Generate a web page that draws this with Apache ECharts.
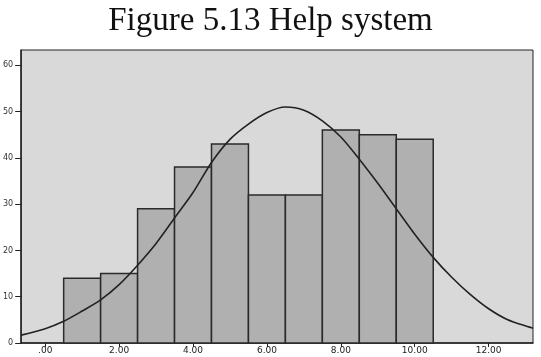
<!DOCTYPE html>
<html>
<head>
<meta charset="utf-8">
<script src="https://cdn.jsdelivr.net/npm/echarts@6/dist/echarts.min.js"></script>
<style>
html,body{margin:0;padding:0;background:#fff;}
#c{width:541px;height:357px;}
</style>
</head>
<body>
<div id="c"></div>
<script>
// Histogram bins (centres, width 1) and counts
var binCenters = [1, 2, 3, 4, 5, 6, 7, 8, 9, 10];
var counts = [14, 15, 29, 38, 43, 32, 32, 46, 45, 44];
// Normal curve, points
var curveX = [-0.65, 0, 0.5, 1.0, 1.5, 2.0, 2.5, 3.0, 3.5, 4.0, 4.5, 5.0, 5.5, 6.0, 6.5, 7.0, 7.5, 8.0, 8.5, 9.0, 9.5, 10.0, 10.5, 11.0, 11.5, 12.0, 12.5, 13.2];
var curveY = [1.7, 3.1, 4.7, 6.9, 9.3, 12.6, 16.8, 21.5, 27.0, 32.5, 39.0, 44.0, 47.3, 49.8, 51.0, 50.3, 48.0, 44.5, 39.7, 34.5, 29.0, 23.5, 18.5, 14.2, 10.5, 7.4, 5.1, 3.2];
// Tick labels
var xTicks = [0, 2, 4, 6, 8, 10, 12];
var xTickLabels = ['.00', '2.00', '4.00', '6.00', '8.00', '10.00', '12.00'];
var yTicks = [0, 10, 20, 30, 40, 50, 60];

var chart = echarts.init(document.getElementById('c'));
var barData = binCenters.map(function (c, i) { return [c, counts[i]]; });
var lineData = curveX.map(function (x, i) { return [x, curveY[i]]; });

chart.setOption({
  animation: false,
  title: {
    text: 'Figure 5.13 Help system',
    left: 'center',
    top: 0,
    textStyle: { fontFamily: 'Liberation Serif', fontSize: 33, fontWeight: 'normal', color: '#111' }
  },
  grid: {
    left: 21, right: 8, top: 50, bottom: 14,
    show: true, backgroundColor: '#d9d9d9', borderColor: '#222', borderWidth: 1
  },
  xAxis: {
    type: 'value', min: -0.65, max: 13.2,
    splitLine: { show: false },
    axisLine: { show: true, onZero: false, lineStyle: { color: '#222', width: 1.5 } },
    axisTick: { show: true, customValues: xTicks, length: 4, lineStyle: { color: '#222' } },
    axisLabel: {
      customValues: xTicks,
      formatter: function (v) { return xTickLabels[xTicks.indexOf(Math.round(v))] || ''; },
      fontSize: 9, color: '#222', margin: 3, fontFamily: 'DejaVu Sans'
    }
  },
  yAxis: {
    type: 'value', min: 0, max: 63.3,
    splitLine: { show: false },
    axisLine: { show: true, onZero: false, lineStyle: { color: '#222', width: 1.5 } },
    axisTick: { show: true, customValues: yTicks, length: 6, lineStyle: { color: '#222' } },
    axisLabel: { customValues: yTicks, fontSize: 8, color: '#333', margin: 8, fontFamily: 'DejaVu Sans' }
  },
  series: [
    {
      type: 'custom',
      data: barData,
      renderItem: function (params, api) {
        var c = api.value(0), v = api.value(1);
        var p0 = api.coord([c - 0.5, v]);
        var p1 = api.coord([c + 0.5, 0]);
        return {
          type: 'rect',
          shape: { x: p0[0], y: p0[1], width: p1[0] - p0[0], height: p1[1] - p0[1] },
          style: { fill: '#b0b0b0', stroke: '#2a2a2a', lineWidth: 1.5 }
        };
      },
      z: 2
    },
    {
      type: 'line',
      data: lineData,
      smooth: 0.3,
      showSymbol: false,
      lineStyle: { color: '#222', width: 1.6 },
      z: 3
    }
  ]
});
</script>
</body>
</html>
